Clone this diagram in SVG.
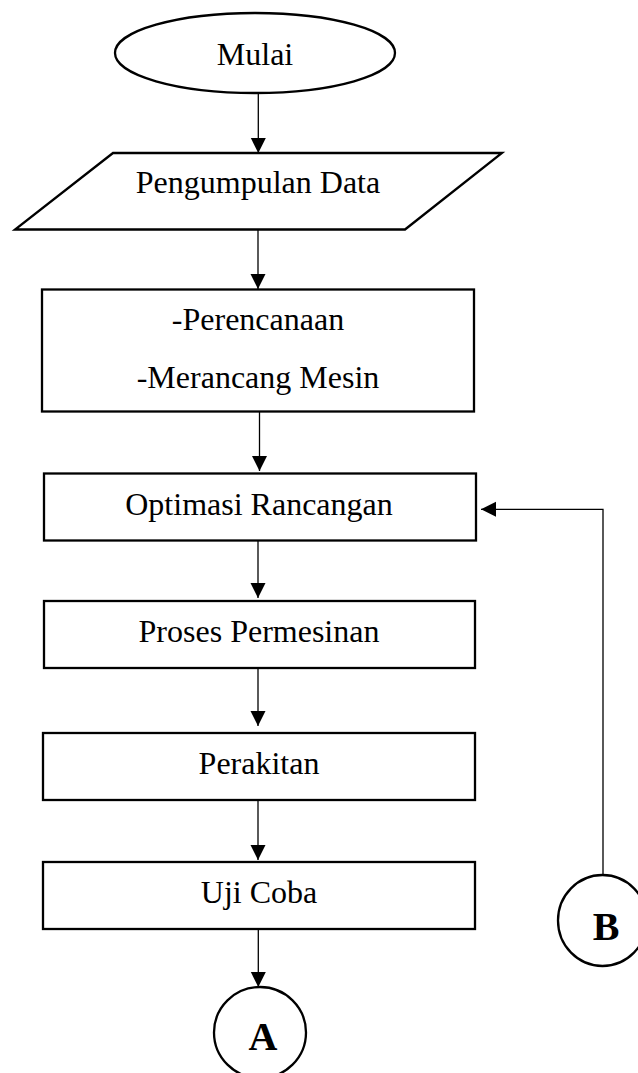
<svg xmlns="http://www.w3.org/2000/svg" width="638" height="1073" viewBox="0 0 638 1073">
  <style>
    .shape { fill: #ffffff; stroke: #000000; stroke-width: 2.3; }
    .label { font-family: "Liberation Serif", "Times New Roman", serif; font-size: 32px; fill: #000000; text-anchor: middle; }
    .conn { font-family: "Liberation Serif", "Times New Roman", serif; font-size: 40px; font-weight: bold; fill: #000000; text-anchor: middle; }
    .link { fill: none; stroke: #000000; stroke-width: 1.3; }
  </style>
  <defs>
    <marker id="arrow" markerUnits="userSpaceOnUse" markerWidth="16" markerHeight="16" refX="15" refY="7.5" orient="auto">
      <path d="M0,0 L15,7.5 L0,15 Z" fill="#000000"/>
    </marker>
  </defs>

  <rect width="638" height="1073" fill="#ffffff"/>

  <!-- flow connectors -->
  <g id="connectors">
    <line class="link" x1="258.3" y1="93" x2="258.3" y2="153" marker-end="url(#arrow)"/>
    <line class="link" x1="258" y1="229.5" x2="258" y2="289" marker-end="url(#arrow)"/>
    <line class="link" x1="259.5" y1="411" x2="259.5" y2="471" marker-end="url(#arrow)"/>
    <line class="link" x1="258" y1="540.5" x2="258" y2="598" marker-end="url(#arrow)"/>
    <line class="link" x1="258" y1="668" x2="258" y2="726" marker-end="url(#arrow)"/>
    <line class="link" x1="258" y1="800" x2="258" y2="860" marker-end="url(#arrow)"/>
    <line class="link" x1="258.3" y1="929" x2="258.3" y2="987" marker-end="url(#arrow)"/>
    <polyline class="link" points="603,875 603,509.3 481,509.3" marker-end="url(#arrow)"/>
  </g>

  <g id="mulai">
    <ellipse class="shape" cx="255" cy="53" rx="140" ry="40"/>
    <text class="label" x="255" y="65">Mulai</text>
  </g>

  <g id="pengumpulan-data">
    <polygon class="shape" points="113,153 502,153 405,229.5 15,229.5"/>
    <text class="label" x="258" y="193">Pengumpulan Data</text>
  </g>

  <g id="perencanaan">
    <rect class="shape" x="42" y="289.5" width="432" height="122"/>
    <text class="label" x="258" y="330">-Perencanaan</text>
    <text class="label" x="258" y="388">-Merancang Mesin</text>
  </g>

  <g id="optimasi-rancangan">
    <rect class="shape" x="44" y="473.5" width="432" height="67"/>
    <text class="label" x="259" y="515">Optimasi Rancangan</text>
  </g>

  <g id="proses-permesinan">
    <rect class="shape" x="44" y="601" width="431" height="67"/>
    <text class="label" x="259" y="642">Proses Permesinan</text>
  </g>

  <g id="perakitan">
    <rect class="shape" x="43" y="733" width="432" height="67"/>
    <text class="label" x="259" y="774">Perakitan</text>
  </g>

  <g id="uji-coba">
    <rect class="shape" x="43" y="862" width="432" height="67"/>
    <text class="label" x="259" y="903">Uji Coba</text>
  </g>

  <g id="connector-a">
    <ellipse class="shape" cx="260" cy="1032.5" rx="46" ry="45.5"/>
    <text class="conn" x="263" y="1050">A</text>
  </g>

  <g id="connector-b">
    <ellipse class="shape" cx="602.5" cy="920.5" rx="44.5" ry="45.5"/>
    <text class="conn" x="606" y="940">B</text>
  </g>
</svg>
